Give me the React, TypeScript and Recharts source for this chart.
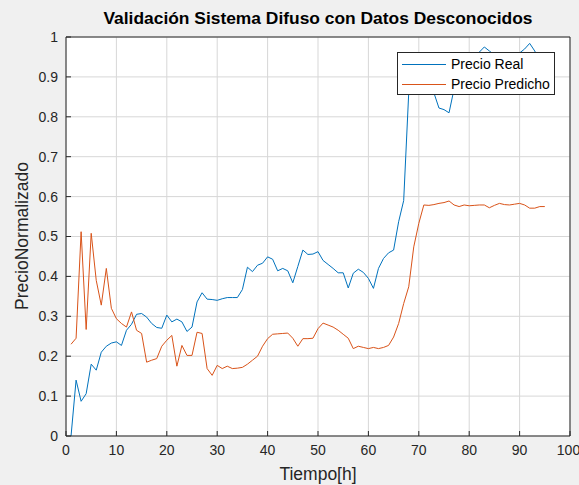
import { LineChart, Line, XAxis, YAxis, CartesianGrid, ReferenceLine } from "recharts";

// hours 1..95
const hours = [
  1, 2, 3, 4, 5, 6, 7, 8, 9, 10, 11, 12, 13, 14, 15, 16, 17, 18, 19, 20,
  21, 22, 23, 24, 25, 26, 27, 28, 29, 30, 31, 32, 33, 34, 35, 36, 37, 38, 39, 40,
  41, 42, 43, 44, 45, 46, 47, 48, 49, 50, 51, 52, 53, 54, 55, 56, 57, 58, 59, 60,
  61, 62, 63, 64, 65, 66, 67, 68, 69, 70, 71, 72, 73, 74, 75, 76, 77, 78, 79, 80,
  81, 82, 83, 84, 85, 86, 87, 88, 89, 90, 91, 92, 93, 94, 95,
];

const precioReal = [
  0.0, 0.14, 0.087, 0.106, 0.18, 0.165, 0.21, 0.225, 0.233, 0.236,
  0.227, 0.265, 0.28, 0.305, 0.307, 0.298, 0.282, 0.272, 0.27, 0.303,
  0.286, 0.293, 0.286, 0.262, 0.273, 0.336, 0.359, 0.343, 0.342, 0.34,
  0.344, 0.347, 0.347, 0.347, 0.367, 0.423, 0.412, 0.428, 0.433, 0.449,
  0.443, 0.414, 0.42, 0.414, 0.384, 0.425, 0.466, 0.455, 0.456, 0.462,
  0.44, 0.43, 0.42, 0.409, 0.409, 0.371, 0.408, 0.418, 0.41, 0.395,
  0.37, 0.42, 0.445, 0.459, 0.466, 0.537, 0.59, 0.86, 0.9, 0.93,
  0.92, 0.9, 0.86, 0.822, 0.818, 0.81, 0.87, 0.92, 0.94, 0.95,
  0.955, 0.962, 0.975, 0.965, 0.955, 0.95, 0.945, 0.95, 0.955, 0.96,
  0.97, 0.984, 0.965, 0.94, 0.93,
];

const precioPredicho = [
  0.23, 0.245, 0.512, 0.267, 0.508, 0.39, 0.328, 0.42, 0.32, 0.294,
  0.282, 0.273, 0.311, 0.265, 0.257, 0.185, 0.19, 0.194, 0.225, 0.24,
  0.252, 0.175, 0.227, 0.202, 0.202, 0.26, 0.257, 0.169, 0.152, 0.177,
  0.169, 0.175, 0.169, 0.17, 0.172, 0.18, 0.19, 0.2, 0.225, 0.244,
  0.255, 0.256, 0.257, 0.258, 0.245, 0.225, 0.244, 0.244, 0.245, 0.269,
  0.283, 0.278, 0.273, 0.265, 0.255, 0.245, 0.219, 0.225, 0.222, 0.219,
  0.222, 0.219, 0.222, 0.227, 0.248, 0.282, 0.332, 0.374, 0.474, 0.533,
  0.579, 0.578, 0.58, 0.583, 0.585, 0.589, 0.579, 0.575, 0.579, 0.577,
  0.578, 0.579, 0.579, 0.572, 0.578, 0.583, 0.58, 0.579, 0.581, 0.583,
  0.579, 0.571, 0.571, 0.575, 0.575,
];

const xTicks = [0, 10, 20, 30, 40, 50, 60, 70, 80, 90, 100];
const yTicks = [0, 0.1, 0.2, 0.3, 0.4, 0.5, 0.6, 0.7, 0.8, 0.9, 1];

const data = hours.map((t, i) => ({
  t,
  real: precioReal[i],
  pred: precioPredicho[i],
}));

const FONT = "'Liberation Sans', Arial, Helvetica, sans-serif";
const AXIS = "#262626";

const legendItems = [
  { label: "Precio Real", color: "#0072BD" },
  { label: "Precio Predicho", color: "#D95319" },
];

export default function App() {
  return (
    <div
      style={{
        position: "absolute",
        left: 0,
        top: 0,
        width: 579,
        height: 485,
        background: "#f0f0f0",
        fontFamily: FONT,
      }}
    >
      <LineChart
        width={579}
        height={485}
        data={data}
        margin={{ top: 37, right: 9, left: 10, bottom: 19 }}
        style={{ position: "absolute", left: 0, top: 0 }}
      >
        <CartesianGrid stroke="#d7d7d7" fill="#fff" />
        <XAxis
          dataKey="t"
          type="number"
          domain={[0, 100]}
          ticks={xTicks}
          height={30}
          stroke={AXIS}
          tickSize={-5}
          tickMargin={14}
          tick={{ fill: AXIS, fontSize: 14, fontFamily: FONT }}
        />
        <XAxis
          xAxisId="top"
          orientation="top"
          type="number"
          domain={[0, 100]}
          ticks={xTicks}
          height={0}
          stroke={AXIS}
          tickSize={-5}
          tick={false}
        />
        <YAxis
          type="number"
          domain={[0, 1]}
          ticks={yTicks}
          width={56}
          stroke={AXIS}
          tickSize={-5}
          tickMargin={13}
          tickFormatter={(v: number) => String(Math.round(v * 10) / 10)}
          tick={{ fill: AXIS, fontSize: 14, fontFamily: FONT }}
        />
        <YAxis
          yAxisId="right"
          orientation="right"
          type="number"
          domain={[0, 1]}
          ticks={yTicks}
          width={0}
          stroke={AXIS}
          tickSize={-5}
          tick={false}
        />
        <ReferenceLine y={1} stroke={AXIS} />
        <ReferenceLine x={100} stroke={AXIS} />
        <Line
          type="linear"
          dataKey="real"
          stroke="#0072BD"
          strokeWidth={1}
          dot={false}
          isAnimationActive={false}
        />
        <Line
          type="linear"
          dataKey="pred"
          stroke="#D95319"
          strokeWidth={1}
          dot={false}
          isAnimationActive={false}
        />
      </LineChart>
      <div
        style={{
          position: "absolute",
          top: 8,
          left: 66,
          width: 504,
          textAlign: "center",
          fontSize: 17.4,
          fontWeight: "bold",
          color: "#000",
          whiteSpace: "nowrap",
        }}
      >
        Validación Sistema Difuso con Datos Desconocidos
      </div>
      <div
        style={{
          position: "absolute",
          left: 22,
          top: 236,
          transform: "translate(-50%, -50%) rotate(-90deg)",
          fontSize: 17.5,
          color: AXIS,
          whiteSpace: "nowrap",
        }}
      >
        PrecioNormalizado
      </div>
      <div
        style={{
          position: "absolute",
          top: 464,
          left: 66,
          width: 504,
          textAlign: "center",
          fontSize: 17.5,
          color: AXIS,
        }}
      >
        Tiempo[h]
      </div>
      <div
        style={{
          position: "absolute",
          left: 397,
          top: 52,
          background: "#fff",
          border: "1px solid #262626",
          width: 158,
          height: 43,
          boxSizing: "border-box",
          padding: "1px 0 0 4px",
          fontSize: 14,
          color: "#000",
        }}
      >
        {legendItems.map((it) => (
          <div key={it.label} style={{ display: "flex", alignItems: "center", height: 20 }}>
            <div style={{ width: 44, height: 1, background: it.color, marginRight: 5 }} />
            <span>{it.label}</span>
          </div>
        ))}
      </div>
    </div>
  );
}
